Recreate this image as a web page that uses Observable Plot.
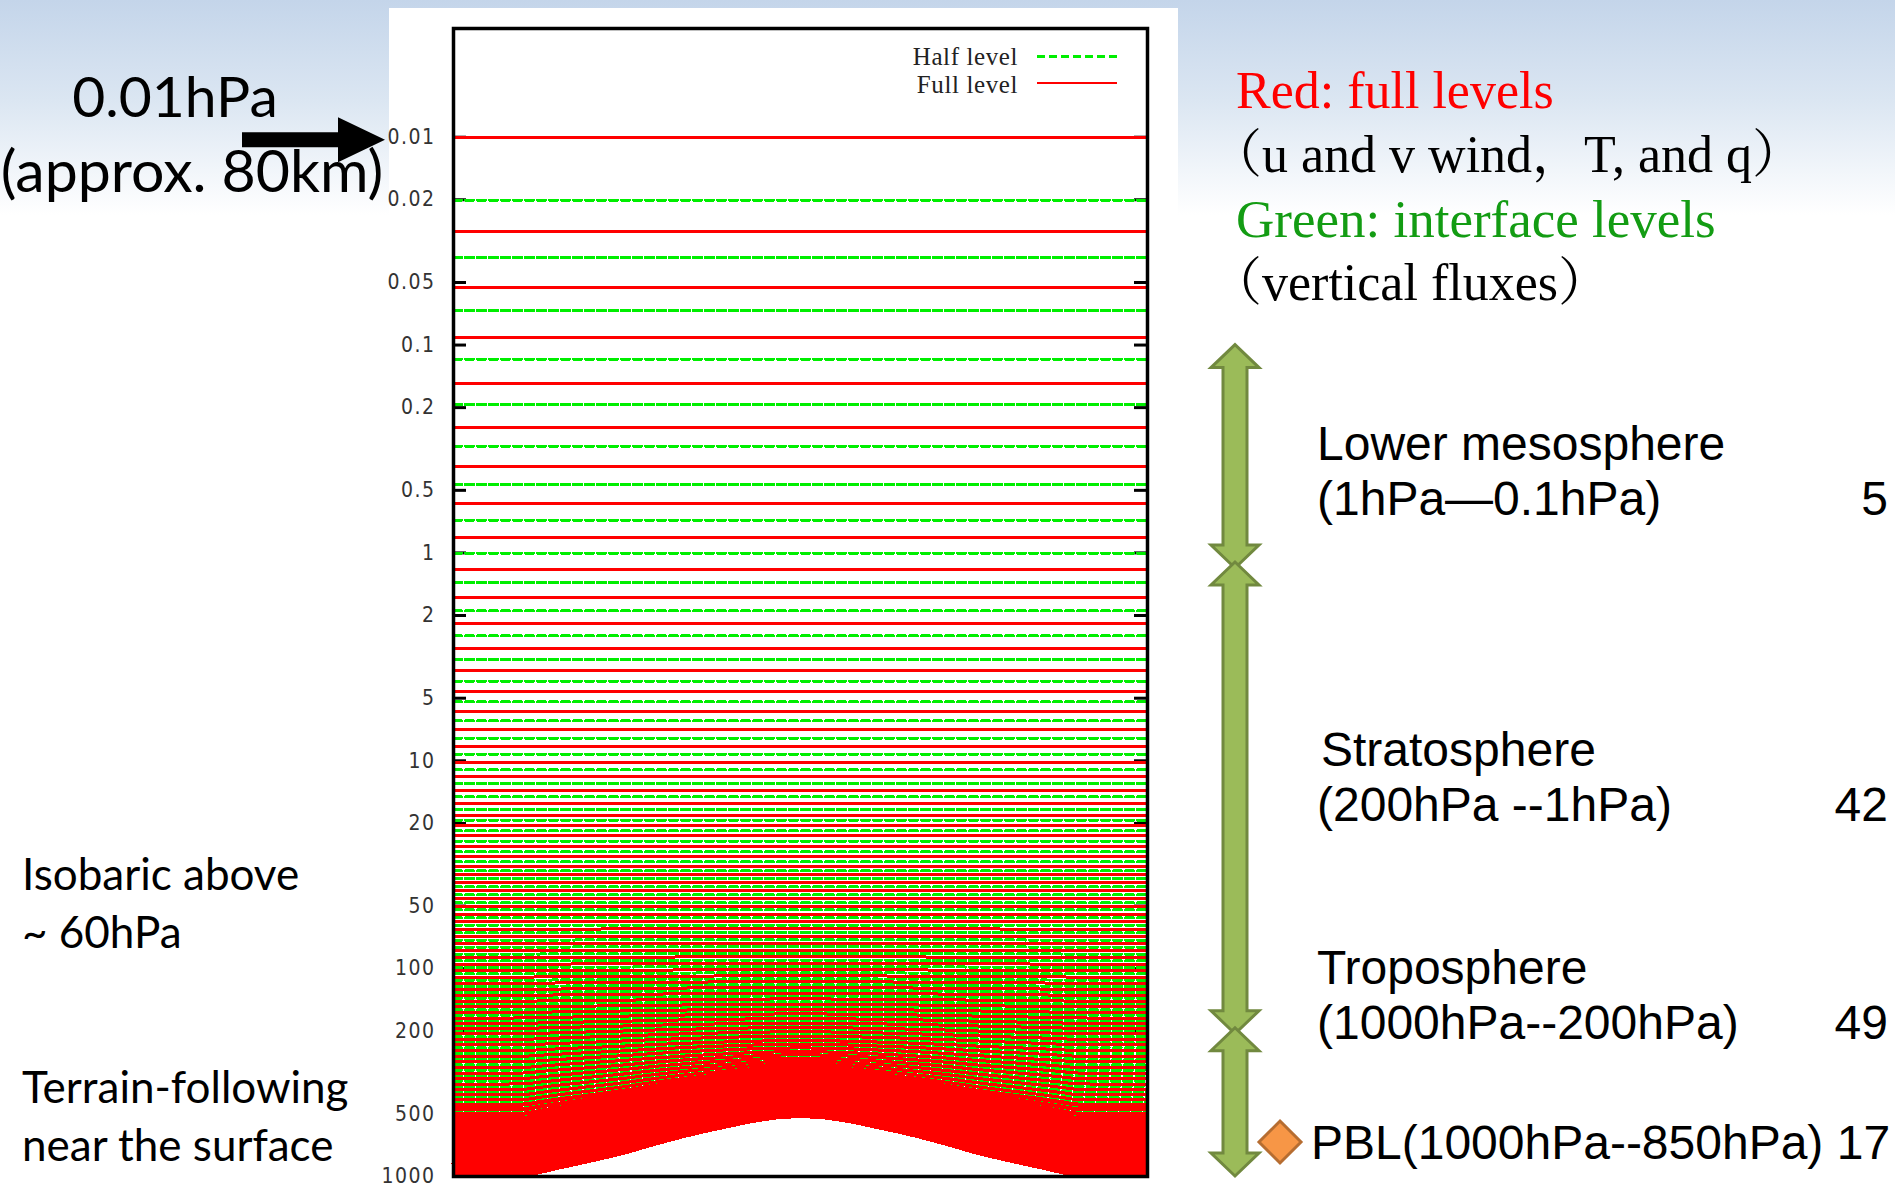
<!DOCTYPE html>
<html>
<head>
<meta charset="utf-8">
<script src="https://cdn.jsdelivr.net/npm/d3@7"></script>
<script src="https://cdn.jsdelivr.net/npm/@observablehq/plot@0.6"></script>
<style>
  html, body { margin: 0; padding: 0; background: #fff; }
  #slide {
    position: relative; width: 1895px; height: 1189px; overflow: hidden;
    background: linear-gradient(to bottom, #c4d5ea 0px, #dbe6f2 100px, #ffffff 215px);
  }
  #chart { position: absolute; left: 389px; top: 8px; }
  #notes { position: absolute; left: 0; top: 0; pointer-events: none; }
  #chart g[aria-label="y-axis tick label"] text { letter-spacing: 1.5px; }
</style>
</head>
<body>
<div id="slide">
  <div id="chart"></div>
  <svg id="notes" width="1895" height="1189"></svg>
</div>
<script>
// Pressure axis ticks (hPa)
const tickValues = [0.01, 0.02, 0.05, 0.1, 0.2, 0.5, 1, 2, 5, 10, 20, 50, 100, 200, 500, 1000];
const tickLabels = ["0.01", "0.02", "0.05", "0.1", "0.2", "0.5", "1", "2", "5", "10", "20", "50", "100", "200", "500", "1000"];

// Idealised cross-section: horizontal position (0..1) and surface pressure (hPa) of the mountain
const sectionX = [
  0, 0.025, 0.05, 0.075, 0.1, 0.125, 0.15, 0.175, 0.2, 0.225,
  0.25, 0.275, 0.3, 0.325, 0.35, 0.375, 0.4, 0.425, 0.45, 0.475,
  0.5, 0.525, 0.55, 0.575, 0.6, 0.625, 0.65, 0.675, 0.7, 0.725,
  0.75, 0.775, 0.8, 0.825, 0.85, 0.875, 0.9, 0.925, 0.95, 0.975, 1
];
const surfacePressure = [
  1000, 1000, 1000, 1000, 998, 955, 912, 875, 838, 802,
  765, 722, 685, 650, 620, 594, 570, 547, 530, 518,
  515, 518, 530, 547, 570, 594, 620, 650, 685, 722,
  765, 802, 838, 875, 912, 955, 998, 1000, 1000, 1000, 1000
];
const referenceSurface = 1000;

// Full levels: pressure over a 1000 hPa surface, and sigma weight B (p = pRef + B * (ps - 1000))
const fullLevelPressure = [
  0.01, 0.0285, 0.0526, 0.0916, 0.153, 0.248, 0.386, 0.581, 0.844, 1.198,
  1.64, 2.188, 2.873, 3.69, 4.643, 5.79, 7.1, 8.5, 10.15, 11.93,
  13.83, 15.97, 18.24, 20.4, 22.9, 25.9, 28.9, 32.2, 35.3, 38.5,
  42.2, 45.9, 50.0, 54.6, 59.3, 64.5, 70.0, 75.8, 81.9, 88.4,
  95.2, 102.3, 109.8, 117.6, 125.8, 134.4, 143.4, 152.8, 162.6, 172.8,
  183.4, 194, 206, 219, 233, 248, 264, 281, 299, 318,
  338, 359, 381, 404, 427, 451, 475, 499, 523, 547,
  571, 595, 618, 641, 663, 685, 706, 727, 747, 767,
  786, 805, 823, 840, 853, 866, 879, 891, 903, 914,
  925, 935, 945, 954, 963, 971, 978, 985, 991, 996
];
const fullLevelB = [
  0, 0, 0, 0, 0, 0, 0, 0, 0, 0,
  0, 0, 0, 0, 0, 0, 0, 0, 0, 0,
  0, 0, 0, 0, 0, 0, 0, 0, 0, 0,
  0, 0, 0, 0, 0, 0.0002, 0.0005, 0.00079, 0.0011, 0.00142,
  0.00176, 0.00228, 0.00318, 0.00411, 0.0051, 0.00613, 0.00721, 0.00895, 0.01228, 0.01575,
  0.01936, 0.02296, 0.0286, 0.0364, 0.0448, 0.0538, 0.0676, 0.0829, 0.0991, 0.1198,
  0.1418, 0.1658, 0.1922, 0.2202, 0.2501, 0.2814, 0.315, 0.3486, 0.3822, 0.4158,
  0.4494, 0.483, 0.5152, 0.5474, 0.5769, 0.6055, 0.6328, 0.6601, 0.6861, 0.7121,
  0.7368, 0.761, 0.7826, 0.803, 0.8186, 0.8342, 0.8498, 0.8642, 0.8786, 0.8918,
  0.905, 0.917, 0.929, 0.9402, 0.9519, 0.9623, 0.9714, 0.9805, 0.9883, 0.9948
];

// Half (interface) levels below the model top, ending at the surface
const halfLevelPressure = [
  0.0201, 0.0379, 0.0681, 0.117, 0.193, 0.307, 0.468, 0.696, 1.003, 1.389,
  1.901, 2.507, 3.258, 4.138, 5.2, 6.42, 7.78, 9.29, 11.04, 12.85,
  14.9, 17.14, 19.28, 21.7, 24.4, 27.4, 30.6, 33.8, 36.8, 40.4,
  44.1, 48.2, 52.2, 57.0, 61.9, 67.2, 72.9, 78.8, 85.1, 91.8,
  98.7, 106.0, 113.7, 121.7, 130.1, 138.9, 148.1, 157.7, 167.7, 178.1,
  188.7, 200, 212.5, 226, 240.5, 256, 272.5, 290, 308.5, 328,
  348.5, 370, 392.5, 415.5, 439, 463, 487, 511, 535, 559,
  583, 606.5, 629.5, 652, 674, 695.5, 716.5, 737, 757, 776.5,
  795.5, 814, 831.5, 846.5, 859.5, 872.5, 885, 897, 908.5, 919.5,
  930, 940, 949.5, 958.5, 967, 974.5, 981.5, 988, 993.5, 1000
];
const halfLevelB = [
  0, 0, 0, 0, 0, 0, 0, 0, 0, 0,
  0, 0, 0, 0, 0, 0, 0, 0, 0, 0,
  0, 0, 0, 0, 0, 0, 0, 0, 0, 0,
  0, 0, 0, 0, 0.0001, 0.00036, 0.00065, 0.00094, 0.00126, 0.00159,
  0.00194, 0.00272, 0.00364, 0.0046, 0.00561, 0.00667, 0.00777, 0.01062, 0.01402, 0.01755,
  0.02116, 0.025, 0.0325, 0.0406, 0.0493, 0.0604, 0.0753, 0.091, 0.1094, 0.1308,
  0.1534, 0.179, 0.206, 0.2352, 0.2657, 0.2982, 0.3318, 0.3654, 0.399, 0.4326,
  0.4662, 0.4991, 0.5313, 0.5626, 0.5912, 0.6192, 0.6465, 0.6731, 0.6991, 0.7245,
  0.7492, 0.7718, 0.7928, 0.8108, 0.8264, 0.842, 0.857, 0.8714, 0.8852, 0.8984,
  0.911, 0.923, 0.9344, 0.946, 0.9571, 0.9669, 0.976, 0.9844, 0.9916, 1
];

// Layer annotations to the right of the section
const layerNames = ["Lower mesosphere", "Stratosphere", "Troposphere"];
const layerRanges = ["(1hPa\u20140.1hPa)", "(200hPa --1hPa)", "(1000hPa--200hPa)"];
const layerCounts = ["5", "42", "49"];
const layerSpans = [[0.1, 1.15], [1.15, 200], [200, 1000]];
const pblLabel = "PBL(1000hPa--850hPa) 17";

// Build one polyline per level across the section
function levelRows(pressures, weights) {
  return pressures.flatMap((pRef, level) =>
    sectionX.map((x, i) => ({
      level,
      pRef,
      x,
      p: pRef + weights[level] * (surfacePressure[i] - referenceSurface)
    }))
  );
}
const halfRows = levelRows(halfLevelPressure, halfLevelB);
const fullRows = levelRows(fullLevelPressure, fullLevelB);

const labelOf = new Map(tickValues.map((v, i) => [v, tickLabels[i]]));

const W = 789, H = 1181;
const mL = 64, mR = 31, mT = 20, mB = 13;
const innerW = W - mL - mR;
const HALF_GREEN = "#00ee00";
const FULL_RED = "#ff0000";
const lowerTroposphere = 450; // full levels below this are drawn heavier

const chart = Plot.plot({
  width: W,
  height: H,
  marginLeft: mL,
  marginRight: mR,
  marginTop: mT,
  marginBottom: mB,
  x: {domain: [0, 1], axis: null},
  y: {type: "log", domain: [0.003, 1000], reverse: true, axis: null},
  style: {background: "#fff", overflow: "visible"},
  marks: [
    Plot.tickY(tickValues, {y: d => d, stroke: "#000", strokeWidth: 3, insetRight: innerW - 13}),
    Plot.tickY(tickValues, {y: d => d, stroke: "#000", strokeWidth: 3, insetLeft: innerW - 13}),
    Plot.axisY(tickValues, {
      anchor: "left", tickSize: 0, tickPadding: 18, label: null,
      tickFormat: d => labelOf.get(d),
      fontSize: 21, fill: "#333",
      fontFamily: "'Liberation Sans Narrow', 'DejaVu Sans Condensed', 'Liberation Sans', sans-serif"
    }),
    Plot.line(halfRows, {x: "x", y: "p", z: "level", curve: "monotone-x",
      stroke: HALF_GREEN, strokeWidth: 3, strokeDasharray: "8,4", shapeRendering: "crispEdges"}),
    Plot.line(fullRows, {filter: d => d.pRef < lowerTroposphere, x: "x", y: "p", z: "level", curve: "monotone-x",
      stroke: FULL_RED, strokeWidth: 3, shapeRendering: "crispEdges"}),
    Plot.line(fullRows, {filter: d => d.pRef >= lowerTroposphere, x: "x", y: "p", z: "level", curve: "monotone-x",
      stroke: FULL_RED, strokeWidth: 4, shapeRendering: "crispEdges"}),
    Plot.frame({stroke: "#000", strokeWidth: 3.5})
  ]
});
document.getElementById("chart").appendChild(chart);

// ---- annotations around the section ----
const notes = d3.select("#notes");
const chartTop = 8;
const yScale = chart.scale("y");
const yOf = p => yScale.apply(p) + chartTop;

// legend inside the frame
const legend = notes.append("g").attr("font-family", "'Liberation Serif', serif").attr("font-size", 25).attr("fill", "#222");
legend.append("text").attr("x", 1018).attr("y", 65).attr("text-anchor", "end").attr("letter-spacing", 0.6).text("Half level");
legend.append("line").attr("x1", 1037).attr("x2", 1117).attr("y1", 56).attr("y2", 56)
  .attr("stroke", HALF_GREEN).attr("stroke-width", 3).attr("stroke-dasharray", "8,4").attr("shape-rendering", "crispEdges");
legend.append("text").attr("x", 1018).attr("y", 93).attr("text-anchor", "end").attr("letter-spacing", 0.6).text("Full level");
legend.append("line").attr("x1", 1037).attr("x2", 1117).attr("y1", 83).attr("y2", 83)
  .attr("stroke", FULL_RED).attr("stroke-width", 2).attr("shape-rendering", "crispEdges");

// model top pointer
const topY = yOf(0.01) + 3;
const left = notes.append("g").attr("font-family", "Lato, 'Open Sans', sans-serif").attr("fill", "#000");
left.append("text").attr("x", 175).attr("y", 117).attr("text-anchor", "middle").attr("font-size", 57).text("0.01hPa");
left.append("text").attr("x", 192).attr("y", 192).attr("text-anchor", "middle").attr("font-size", 59).text("(approx. 80km)");
notes.append("polygon")
  .attr("points", [[242, topY - 7.5], [338, topY - 7.5], [338, topY - 22.5], [385, topY], [338, topY + 22.5], [338, topY + 7.5], [242, topY + 7.5]].map(d => d.join(",")).join(" "))
  .attr("fill", "#000");

left.append("text").attr("x", 22).attr("y", 890).attr("font-size", 44).text("Isobaric above");
left.append("text").attr("x", 22).attr("y", 948).attr("font-size", 44).text("~ 60hPa");
left.append("text").attr("x", 22).attr("y", 1103).attr("font-size", 44).text("Terrain-following");
left.append("text").attr("x", 22).attr("y", 1161).attr("font-size", 44).text("near the surface");

// colour key text
const key = notes.append("g").attr("font-family", "'Liberation Serif', 'Noto Serif CJK JP', 'Noto Sans CJK JP', serif").attr("font-size", 52);
key.append("text").attr("x", 1236).attr("y", 108).attr("fill", "#ff0000").text("Red: full levels");
key.append("text").attr("x", 1210).attr("y", 172).attr("fill", "#000").text("\uFF08u and v wind\uFF0CT, and q\uFF09");
key.append("text").attr("x", 1236).attr("y", 237).attr("fill", "#139c13").attr("font-size", 53).text("Green: interface levels");
key.append("text").attr("x", 1210).attr("y", 300).attr("fill", "#000").text("\uFF08vertical fluxes\uFF09");

// layer arrows
const cx = 1235, sw = 12, hw = 24, hl = 23;
layerSpans.forEach(([a, b], i) => {
  const y1 = yOf(a) - (i > 0 ? 3 : 0);
  const y2 = yOf(b) + (i < layerSpans.length - 1 ? 3 : 0);
  const pts = [
    [cx, y1], [cx + hw, y1 + hl], [cx + sw, y1 + hl], [cx + sw, y2 - hl], [cx + hw, y2 - hl],
    [cx, y2], [cx - hw, y2 - hl], [cx - sw, y2 - hl], [cx - sw, y1 + hl], [cx - hw, y1 + hl]
  ];
  notes.append("polygon").attr("points", pts.map(d => d.join(",")).join(" "))
    .attr("fill", "#9bbb59").attr("stroke", "#71893f").attr("stroke-width", 3).attr("stroke-linejoin", "miter");
});

const layerLabelBaseline = [460, 766, 984];
const layers = notes.append("g").attr("font-family", "'Liberation Sans', Arial, sans-serif").attr("font-size", 48).attr("fill", "#000");
layerNames.forEach((name, i) => {
  const y = layerLabelBaseline[i];
  layers.append("text").attr("x", i === 1 ? 1321 : 1317).attr("y", y).text(name);
  layers.append("text").attr("x", 1317).attr("y", y + 55).text(layerRanges[i]);
  layers.append("text").attr("x", 1888).attr("y", y + 55).attr("text-anchor", "end").text(layerCounts[i]);
});

// PBL marker
const dy = 1142;
notes.append("polygon")
  .attr("points", [[1280, dy - 21], [1301, dy], [1280, dy + 21], [1259, dy]].map(d => d.join(",")).join(" "))
  .attr("fill", "#f79646").attr("stroke", "#b66d31").attr("stroke-width", 3);
layers.append("text").attr("x", 1311).attr("y", 1159).text(pblLabel);
</script>
</body>
</html>
